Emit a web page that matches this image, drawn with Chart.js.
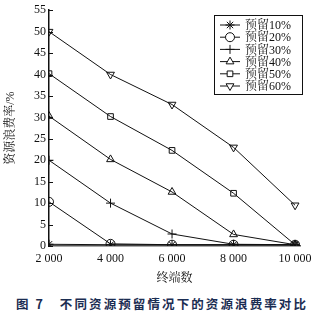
<!DOCTYPE html>
<html>
<head>
<meta charset="utf-8">
<script src="https://cdn.jsdelivr.net/npm/chart.js@4.4.1/dist/chart.umd.min.js"></script>
<style>
  html, body { margin: 0; padding: 0; background: #fff; }
  #wrap { position: relative; width: 327px; height: 321px; }
  #box { position: absolute; left: 0; top: 0; width: 327px; height: 290px; }
  #caption {
    position: absolute; left: 16px; top: 294px; white-space: nowrap;
    font-family: "Noto Sans CJK SC", sans-serif; font-weight: bold; font-size: 12.5px;
    letter-spacing: 2.1px; color: #1b2d52;
  }
</style>
</head>
<body>
<div id="wrap">
  <div id="box"><canvas id="c"></canvas></div>
  <div id="caption">图 7&nbsp;&nbsp;&nbsp;不同资源预留情况下的资源浪费率对比</div>
</div>
<script>
// 终端数
const terminals = [2000, 4000, 6000, 8000, 10000];
const xTickLabels = ['2 000', '4 000', '6 000', '8 000', '10 000'];
const yTicks = [0, 5, 10, 15, 20, 25, 30, 35, 40, 45, 50, 55];

// 资源浪费率 (%)
const seriesNames = ['预留10%', '预留20%', '预留30%', '预留40%', '预留50%', '预留60%'];
const r10 = [0.4, 0.3, 0.3, 0.3, 0.3];
const r20 = [10.3, 0.5, 0.3, 0.3, 0.3];
const r30 = [20.0, 10.0, 2.8, 0.4, 0.3];
const r40 = [30.3, 20.2, 12.6, 2.7, 0.3];
const r50 = [40.2, 30.2, 22.3, 12.3, 0.3];
const r60 = [50.0, 40.0, 33.0, 23.0, 9.5];

const markers = ['star', 'circle', 'cross', 'triangle', 'rect', 'triangle'];
const rotations = [0, 0, 0, 0, 0, 180];

const serif = '"Liberation Serif", "Times New Roman", serif';
const cjkSerif = '"Liberation Serif", "Noto Serif CJK SC", "Noto Sans CJK SC", serif';

const datasets = [r10, r20, r30, r40, r50, r60].map((vals, i) => ({
    label: seriesNames[i],
    data: terminals.map((t, j) => ({ x: t, y: vals[j] })),
    borderColor: '#111',
    borderWidth: 1,
    backgroundColor: 'rgba(0,0,0,0)',
    pointStyle: markers[i],
    rotation: rotations[i],
    pointRadius: markers[i] === 'rect' ? 4 : 4.5,
    pointBorderColor: '#111',
    pointBackgroundColor: 'rgba(255,255,255,0)',
    pointBorderWidth: 1,
    tension: 0
}));

// inward ticks on the y axis
const innerTicks = {
    id: 'innerTicks',
    afterDraw(chart) {
        const ctx = chart.ctx;
        const y = chart.scales.y;
        const left = chart.chartArea.left;
        ctx.save();
        ctx.strokeStyle = '#111';
        ctx.lineWidth = 1;
        y.ticks.forEach(t => {
            const py = Math.round(y.getPixelForValue(t.value)) + 0.5;
            ctx.beginPath();
            ctx.moveTo(left, py);
            ctx.lineTo(left + 4, py);
            ctx.stroke();
        });
        ctx.restore();
    }
};

// boxed legend with line + hollow marker
const boxLegend = {
    id: 'boxLegend',
    afterDraw(chart) {
        const ctx = chart.ctx;
        const x0 = 214, y0 = 15, w = 88, h = 79;
        ctx.save();
        ctx.fillStyle = '#fff';
        ctx.fillRect(x0, y0, w, h);
        ctx.strokeStyle = '#111';
        ctx.lineWidth = 1;
        ctx.strokeRect(x0 + 0.5, y0 + 0.5, w, h);
        ctx.font = '12px ' + cjkSerif;
        ctx.textBaseline = 'middle';
        chart.data.datasets.forEach((ds, i) => {
            const cy = y0 + 10 + i * 12.2;
            ctx.strokeStyle = '#111';
            ctx.beginPath();
            ctx.moveTo(x0 + 6, cy);
            ctx.lineTo(x0 + 26, cy);
            ctx.stroke();
            ctx.fillStyle = '#fff';
            Chart.helpers.drawPoint(ctx, {
                pointStyle: ds.pointStyle, rotation: ds.rotation,
                radius: ds.pointRadius, borderWidth: 1
            }, x0 + 16, cy);
            ctx.fillStyle = '#111';
            ctx.fillText(ds.label, x0 + 31, cy + 1);
        });
        ctx.restore();
    }
};

new Chart(document.getElementById('c'), {
    type: 'line',
    data: { datasets },
    options: {
        responsive: true,
        maintainAspectRatio: false,
        animation: false,
        layout: { padding: { top: 8, right: 27, left: 0, bottom: 0 } },
        plugins: { legend: { display: false }, tooltip: { enabled: false } },
        scales: {
            x: {
                type: 'linear',
                min: 2000,
                max: 10160,
                afterBuildTicks: s => { s.ticks = terminals.map(v => ({ value: v })); },
                afterFit: s => { s.height = 44; },
                grid: { display: false, drawTicks: false },
                border: { color: '#555', width: 1.5 },
                ticks: {
                    color: '#111', padding: 6, maxRotation: 0, autoSkip: false,
                    font: { family: serif, size: 12 },
                    callback: v => xTickLabels[terminals.indexOf(v)]
                },
                title: {
                    display: true, text: '终端数', color: '#111',
                    font: { family: cjkSerif, size: 12 }, padding: { top: 2 }
                }
            },
            y: {
                min: 0,
                max: 55,
                afterBuildTicks: s => { s.ticks = yTicks.map(v => ({ value: v })); },
                afterFit: s => { s.width = 49; },
                grid: { display: false, drawTicks: false },
                border: { color: '#111', width: 1.5 },
                ticks: {
                    color: '#111', padding: 3,
                    font: { family: serif, size: 12 }
                },
                title: {
                    display: true, text: '资源浪费率/%', color: '#111',
                    font: { family: cjkSerif, size: 12 }, padding: { bottom: 0 }
                }
            }
        }
    },
    plugins: [innerTicks, boxLegend]
});
</script>
</body>
</html>
